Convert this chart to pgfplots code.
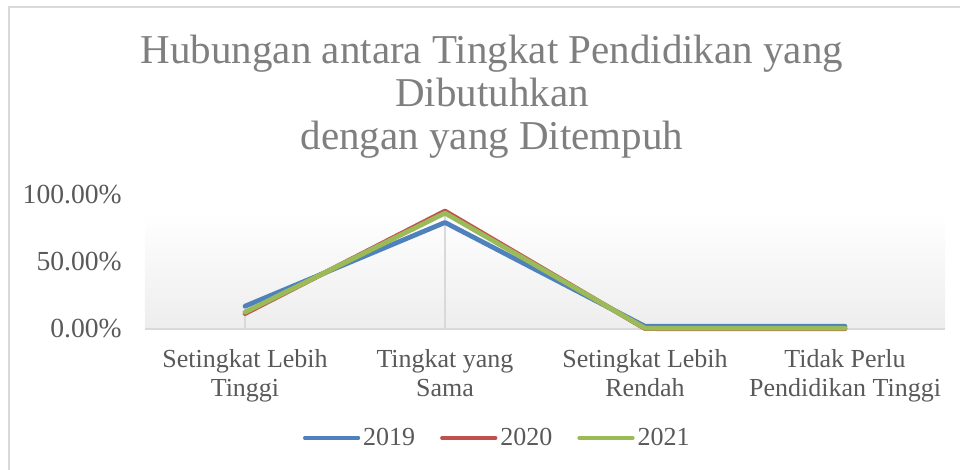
\documentclass[border=0pt]{standalone}
\usepackage{pgfplots}
\pgfplotsset{compat=1.18}
\usepackage{fontspec}
\setmainfont{Liberation Serif}
\definecolor{c19}{HTML}{4F81BD}
\definecolor{c20}{HTML}{C0504D}
\definecolor{c21}{HTML}{9BBB59}
\definecolor{txt}{HTML}{595959}
\definecolor{ttl}{HTML}{7F7F7F}
\definecolor{frm}{HTML}{D9D9D9}
\begin{document}
\begin{tikzpicture}
\useasboundingbox (0,0) rectangle (480pt,235pt);
\draw[frm, line width=0.8pt] (4.5pt,-2pt) -- (4.5pt,231.5pt) -- (482pt,231.5pt);
\node[ttl, align=center, font=\fontsize{20.5}{21.5}\selectfont] at (246pt,186.5pt)
  {Hubungan antara Tingkat Pendidikan yang\\Dibutuhkan\\dengan yang Ditempuh};
\begin{axis}[
  at={(72.5pt,70.5pt)}, anchor=south west,
  scale only axis, width=400pt, height=67pt,
  xmin=-0.5, xmax=3.5, ymin=0, ymax=1,
  axis line style={draw=none},
  clip=false,
  xtick={0,1,2,3},
  xticklabels={{Setingkat Lebih\\Tinggi},{Tingkat yang\\Sama},{Setingkat Lebih\\Rendah},{Tidak Perlu\\Pendidikan Tinggi}},
  ytick={0,0.5,1},
  yticklabels={0.00\%,50.00\%,100.00\%},
  major tick length=0pt,
  tick style={draw=none},
  tick label style={text=txt, font=\fontsize{13}{14.5}\selectfont, inner sep=0pt},
  xticklabel style={align=center, anchor=north, yshift=-10pt},
  yticklabel style={anchor=east, xshift=-11.5pt, font=\fontsize{13.8}{15}\selectfont},
  legend style={at={(0.441,-0.813)}, anchor=center, draw=none, fill=none,
    legend columns=3, font=\fontsize{13}{14.5}\selectfont, text=txt,
    /tikz/every even column/.append style={column sep=11pt},
    nodes={inner sep=1.5pt}},
  legend image code/.code={\draw[#1, line width=1.6pt, line cap=round] (0pt,0pt) -- (27pt,0pt);},
]
\fill[top color=white, bottom color=black!7, draw=none] (rel axis cs:0,0) rectangle (rel axis cs:1,0.87);
\draw[frm, line width=0.9pt] (rel axis cs:0,0) -- (rel axis cs:1,0);
\addplot[ycomb, frm, line width=0.6pt, forget plot] coordinates {(0,0.17) (1,0.88) (2,0.02) (3,0.02)};
\addplot[c19, line width=2.4pt, line cap=round, line join=round] coordinates {(0,0.17) (1,0.795) (2,0.02) (3,0.02)};
\addplot[c20, line width=2.4pt, line cap=round, line join=round] coordinates {(0,0.115) (1,0.88) (2,0.003) (3,0.002)};
\addplot[c21, line width=2.4pt, line cap=round, line join=round] coordinates {(0,0.125) (1,0.865) (2,0.006) (3,0.006)};
\legend{2019,2020,2021}
\end{axis}
\end{tikzpicture}
\end{document}
